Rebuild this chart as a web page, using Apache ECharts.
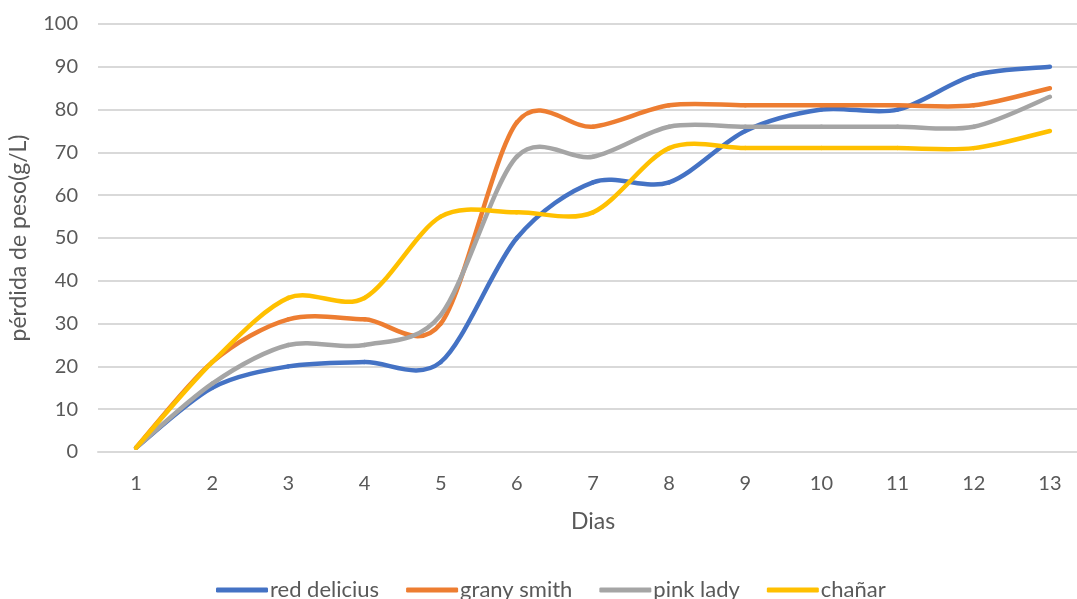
<!DOCTYPE html>
<html>
<head>
<meta charset="utf-8">
<script src="https://cdn.jsdelivr.net/npm/echarts@6/dist/echarts.min.js"></script>
<style>
html,body{margin:0;padding:0;background:#fff;}
#c{width:1077px;height:599px;}
</style>
</head>
<body>
<div id="c"></div>
<script>
const days = ['1','2','3','4','5','6','7','8','9','10','11','12','13'];
const redDelicius = [1,15,20,21,21,50,63,63,75,80,80,88,90];
const granySmith  = [1,21,31,31,30,77,76,81,81,81,81,81,85];
const pinkLady    = [1,16,25,25,32,69,69,76,76,76,76,76,83];
const chanar      = [1,21,36,36,55,56,56,71,71,71,71,71,75];
const seriesNames = ['red delicius','grany smith','pink lady','chañar'];
const seriesColors = ['#4472C4','#ED7D31','#A5A5A5','#FFC000'];
const seriesData = [redDelicius, granySmith, pinkLady, chanar];

const FONT = 'Lato';
const TXT = '#595959';

// Smooth curve through the data points (Catmull-Rom style, like the spreadsheet's smoothed line)
function makeRender(vals, color){
  return function(params, api){
    if (params.dataIndex !== 0) return null;
    const P = vals.map((v,i)=>api.coord([i, v]));
    const n = P.length;
    const get = k => P[Math.max(0, Math.min(n-1, k))];
    const t = 1/6.5;
    const children = [];
    for (let i=0;i<n-1;i++){
      const p0=get(i-1), p1=get(i), p2=get(i+1), p3=get(i+2);
      children.push({
        type:'bezierCurve',
        shape:{
          x1:p1[0], y1:p1[1], x2:p2[0], y2:p2[1],
          cpx1:p1[0]+(p2[0]-p0[0])*t, cpy1:p1[1]+(p2[1]-p0[1])*t,
          cpx2:p2[0]-(p3[0]-p1[0])*t, cpy2:p2[1]-(p3[1]-p1[1])*t
        },
        style:{stroke:color, lineWidth:4.5, fill:null, lineCap:'round', lineJoin:'round'}
      });
    }
    return {type:'group', children};
  };
}

const chart = echarts.init(document.getElementById('c'), null, {renderer:'canvas'});
chart.setOption({
  animation:false,
  backgroundColor:'#fff',
  textStyle:{fontFamily:FONT},
  grid:{left:98, top:24, width:990, height:428, containLabel:false, outerBoundsMode:'none'},
  legend:{
    top:574, left:211,
    itemWidth:52, itemHeight:5, itemGap:27,
    textStyle:{color:TXT, fontSize:22, fontFamily:FONT, padding:[0,0,0,-3]},
    data:seriesNames.map((n,i)=>({name:n, icon:'roundRect', itemStyle:{color:seriesColors[i]}}))
  },
  xAxis:{
    type:'category', data:days, boundaryGap:true,
    name:'Dias', nameLocation:'middle', nameGap:58,
    nameTextStyle:{color:TXT, fontSize:23, fontFamily:FONT},
    axisLine:{lineStyle:{color:'#D9D9D9', width:2}},
    axisTick:{show:false},
    axisLabel:{color:TXT, fontSize:20, fontFamily:FONT, margin:22}
  },
  yAxis:{
    type:'value', min:0, max:100, interval:10,
    name:'pérdida de peso(g/L)', nameLocation:'middle', nameGap:68, nameRotate:90,
    nameTextStyle:{color:TXT, fontSize:23, fontFamily:FONT},
    axisLine:{show:false}, axisTick:{show:false},
    axisLabel:{color:TXT, fontSize:20, fontFamily:FONT, margin:20},
    splitLine:{lineStyle:{color:'#D9D9D9', width:2}}
  },
  series: seriesNames.map((n,i)=>({
    name:n, type:'custom',
    data:seriesData[i].map((v,k)=>[k,v]),
    encode:{x:0, y:1},
    itemStyle:{color:seriesColors[i]},
    renderItem:makeRender(seriesData[i], seriesColors[i]),
    z:2+i
  }))
});
</script>
</body>
</html>
